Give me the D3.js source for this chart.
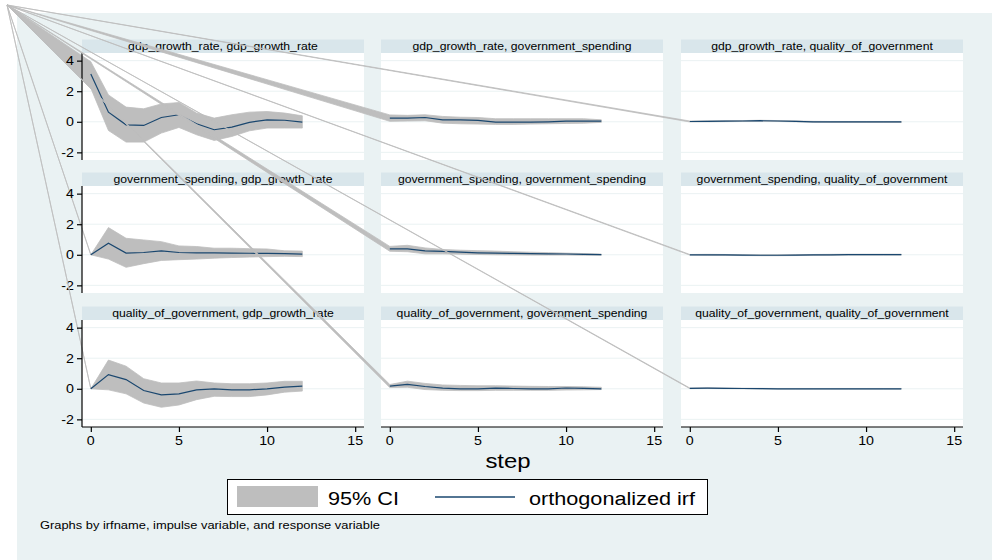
<!DOCTYPE html>
<html>
<head>
<meta charset="utf-8">
<script src="https://cdn.jsdelivr.net/npm/d3@7"></script>
<style>
  body { margin: 0; background: #fff; }
  text { font-family: "Liberation Sans", Arial, sans-serif; fill: #000; }
</style>
</head>
<body>
<div id="chart"></div>
<script>
// podaci: impuls (red) -> odziv (stupac), koraci 0..12
const steps = [0, 1, 2, 3, 4, 5, 6, 7, 8, 9, 10, 11, 12];
const variables = ["gdp_growth_rate", "government_spending", "quality_of_government"];
const yTicks = [-2, 0, 2, 4];
const xTicks = [0, 5, 10, 15];

// gdp_growth_rate -> ...
const irf_gdp_gdp = [3.13, 0.63, -0.2, -0.24, 0.28, 0.46, -0.13, -0.52, -0.35, -0.04, 0.13, 0.1, -0.02];
const hi_gdp_gdp  = [3.93, 1.76, 0.96, 0.85, 1.17, 1.26, 0.57, 0.24, 0.46, 0.63, 0.67, 0.57, 0.39];
const lo_gdp_gdp  = [2.2, -0.57, -1.33, -1.33, -0.74, -0.37, -0.85, -1.22, -0.96, -0.59, -0.41, -0.41, -0.41];
const irf_gdp_gov = [0.24, 0.24, 0.28, 0.13, 0.13, 0.09, -0.02, -0.02, -0.02, 0.0, 0.04, 0.04, 0.04];
const hi_gdp_gov  = [0.45, 0.42, 0.46, 0.35, 0.3, 0.28, 0.2, 0.2, 0.2, 0.2, 0.2, 0.2, 0.13];
const lo_gdp_gov  = [0.03, 0.05, 0.07, -0.09, -0.13, -0.15, -0.17, -0.17, -0.15, -0.13, -0.11, -0.09, -0.04];
const irf_gdp_qog = [0.02, 0.03, 0.04, 0.05, 0.07, 0.05, 0.03, 0.0, -0.01, -0.01, -0.01, -0.01, -0.01];
const hi_gdp_qog  = [0.05, 0.06, 0.07, 0.08, 0.1, 0.08, 0.06, 0.03, 0.02, 0.02, 0.02, 0.02, 0.02];
const lo_gdp_qog  = [-0.01, 0.0, 0.01, 0.02, 0.04, 0.02, 0.0, -0.03, -0.04, -0.04, -0.04, -0.04, -0.04];

// government_spending -> ...
const irf_gov_gdp = [0.0, 0.75, 0.11, 0.15, 0.26, 0.15, 0.13, 0.12, 0.11, 0.1, 0.09, 0.07, 0.04];
const hi_gov_gdp  = [0.0, 1.78, 1.08, 0.97, 0.86, 0.58, 0.54, 0.43, 0.43, 0.4, 0.38, 0.26, 0.24];
const lo_gov_gdp  = [0.0, -0.28, -0.82, -0.58, -0.37, -0.32, -0.28, -0.22, -0.18, -0.15, -0.12, -0.1, -0.12];
const irf_gov_gov = [0.39, 0.39, 0.26, 0.22, 0.17, 0.13, 0.11, 0.09, 0.08, 0.06, 0.05, 0.03, 0.01];
const hi_gov_gov  = [0.55, 0.62, 0.45, 0.35, 0.3, 0.27, 0.24, 0.2, 0.17, 0.14, 0.11, 0.08, 0.05];
const lo_gov_gov  = [0.23, 0.2, 0.06, 0.06, 0.04, 0.02, 0.0, -0.01, -0.02, -0.02, -0.02, -0.03, -0.03];
const irf_gov_qog = [0.0, 0.0, -0.01, -0.02, -0.03, -0.03, -0.02, -0.01, 0.0, 0.01, 0.01, 0.01, 0.01];
const hi_gov_qog  = [0.02, 0.03, 0.02, 0.01, 0.0, 0.0, 0.01, 0.02, 0.03, 0.04, 0.04, 0.04, 0.04];
const lo_gov_qog  = [-0.02, -0.03, -0.04, -0.05, -0.06, -0.06, -0.05, -0.04, -0.03, -0.02, -0.02, -0.02, -0.02];

// quality_of_government -> ...
const irf_qog_gdp = [0.0, 0.93, 0.6, -0.11, -0.4, -0.33, -0.07, 0.0, -0.07, -0.07, 0.0, 0.11, 0.18];
const hi_qog_gdp  = [0.0, 1.88, 1.48, 0.66, 0.38, 0.38, 0.51, 0.38, 0.33, 0.33, 0.38, 0.49, 0.49];
const lo_qog_gdp  = [0.0, -0.07, -0.33, -0.93, -1.21, -1.06, -0.71, -0.49, -0.51, -0.51, -0.4, -0.22, -0.15];
const irf_qog_gov = [0.18, 0.29, 0.15, 0.04, 0.0, 0.0, 0.04, 0.02, 0.0, 0.0, 0.05, 0.03, 0.0];
const hi_qog_gov  = [0.28, 0.5, 0.35, 0.25, 0.22, 0.2, 0.2, 0.18, 0.16, 0.15, 0.15, 0.13, 0.1];
const lo_qog_gov  = [0.08, 0.1, -0.05, -0.1, -0.12, -0.12, -0.1, -0.1, -0.1, -0.1, -0.08, -0.07, -0.05];
const irf_qog_qog = [0.03, 0.04, 0.03, 0.02, 0.01, 0.0, 0.0, 0.0, 0.0, 0.0, 0.0, 0.0, 0.0];
const hi_qog_qog  = [0.05, 0.06, 0.05, 0.04, 0.03, 0.02, 0.02, 0.02, 0.02, 0.02, 0.02, 0.02, 0.02];
const lo_qog_qog  = [0.01, 0.02, 0.01, 0.0, -0.01, -0.02, -0.02, -0.02, -0.02, -0.02, -0.02, -0.02, -0.02];

const legendLabels = ["95% CI", "orthogonalized irf"];
const xTitle = "step";
const note = "Graphs by irfname, impulse variable, and response variable";

// tablica panela (red = impuls, stupac = odziv)
const panels = [
  { r: 0, c: 0, irf: irf_gdp_gdp, lo: lo_gdp_gdp, hi: hi_gdp_gdp },
  { r: 0, c: 1, irf: irf_gdp_gov, lo: lo_gdp_gov, hi: hi_gdp_gov },
  { r: 0, c: 2, irf: irf_gdp_qog, lo: lo_gdp_qog, hi: hi_gdp_qog },
  { r: 1, c: 0, irf: irf_gov_gdp, lo: lo_gov_gdp, hi: hi_gov_gdp },
  { r: 1, c: 1, irf: irf_gov_gov, lo: lo_gov_gov, hi: hi_gov_gov },
  { r: 1, c: 2, irf: irf_gov_qog, lo: lo_gov_qog, hi: hi_gov_qog },
  { r: 2, c: 0, irf: irf_qog_gdp, lo: lo_qog_gdp, hi: hi_qog_gdp },
  { r: 2, c: 1, irf: irf_qog_gov, lo: lo_qog_gov, hi: hi_qog_gov },
  { r: 2, c: 2, irf: irf_qog_qog, lo: lo_qog_qog, hi: hi_qog_qog },
];

// dimenzije
const sirina = 992, visina = 560;
const colX = [82, 381, 681];
const rowY = [53, 186, 320];
const plotW = 282, plotH = 107, stripH = 13.5;
const sx = 1.14; // Stata tekst je malo razvučen vodoravno
const boja = { bg: "#eaf2f3", strip: "#d9e6eb", grid: "#eaf2f3", ci: "#bebebe", irf: "#1a476f" };
const kut = [7, 5]; // tocka iz koje krecu "klinovi" CI poligona

const svg = d3.select("#chart").append("svg")
  .attr("width", sirina).attr("height", visina);

svg.append("rect").attr("x", 17).attr("y", 13)
  .attr("width", sirina - 17).attr("height", visina - 13)
  .attr("fill", boja.bg);

const txt = (g, x, y, s, size, anchor) => g.append("text")
  .attr("transform", `translate(${x},${y}) scale(${sx},1)`)
  .attr("text-anchor", anchor || "start")
  .style("font-size", size + "px")
  .text(s);

const linija = d3.line();

panels.forEach(p => {
  const x0 = colX[p.c], y0 = rowY[p.r];
  const xSkala = d3.scaleLinear().domain([-0.5, 15.5]).range([x0, x0 + plotW]);
  const ySkala = d3.scaleLinear().domain([-2.5, 4.5]).range([y0 + plotH, y0]);
  const g = svg.append("g");

  g.append("rect").attr("x", x0).attr("y", y0).attr("width", plotW).attr("height", plotH)
    .attr("fill", "#fff");
  g.selectAll(".grid").data(yTicks).join("line")
    .attr("x1", x0).attr("x2", x0 + plotW)
    .attr("y1", d => ySkala(d)).attr("y2", d => ySkala(d))
    .attr("stroke", boja.grid).attr("stroke-width", 1);

  g.append("rect").attr("x", x0).attr("y", y0 - stripH).attr("width", plotW).attr("height", stripH)
    .attr("fill", boja.strip);
  txt(g, x0 + plotW / 2, y0 - 3.5, `${variables[p.r]}, ${variables[p.c]}`, 10.7, "middle");

  // CI poligon (s klinom prema kutu kao na originalu)
  const gornja = steps.map(s => [xSkala(s), ySkala(p.hi[s])]);
  const donja = steps.slice().reverse().map(s => [xSkala(s), ySkala(p.lo[s])]);
  g.append("path")
    .attr("d", linija([kut, ...gornja, ...donja]) + "Z")
    .attr("fill", boja.ci).attr("stroke", boja.ci).attr("stroke-width", 0.8)
    .attr("stroke-linejoin", "round");

  g.append("path")
    .attr("d", linija(steps.map(s => [xSkala(s), ySkala(p.irf[s])])))
    .attr("fill", "none").attr("stroke", boja.irf).attr("stroke-width", 1.2);

  if (p.c === 0) {
    const os = g.append("g").attr("transform", `translate(${x0},0)`)
      .call(d3.axisLeft(ySkala).tickValues(yTicks).tickSize(5).tickFormat(""));
    os.select(".domain").attr("d", `M0,${y0}V${y0 + plotH}`);
    os.selectAll("line, path").attr("stroke", "#000").attr("stroke-width", 1.2);
    yTicks.forEach(t => txt(g, x0 - 8, ySkala(t) + 4.5, String(t), 12.5, "end"));
  }
  if (p.r === 2) {
    const os = g.append("g").attr("transform", `translate(0,${y0 + plotH})`)
      .call(d3.axisBottom(xSkala).tickValues(xTicks).tickSize(5).tickFormat(""));
    os.select(".domain").attr("d", `M${x0},0H${x0 + plotW}`);
    os.selectAll("line, path").attr("stroke", "#000").attr("stroke-width", 1.2);
    xTicks.forEach(t => txt(g, xSkala(t), y0 + plotH + 18, String(t), 12.5, "middle"));
  }
});

// naslov osi
txt(svg, 508, 468, xTitle, 21, "middle");

// legenda
const leg = svg.append("g");
leg.append("rect").attr("x", 227.5).attr("y", 479.5).attr("width", 480).attr("height", 35)
  .attr("fill", "#fff").attr("stroke", "#000").attr("stroke-width", 1);
leg.append("rect").attr("x", 237).attr("y", 486).attr("width", 81).attr("height", 21)
  .attr("fill", boja.ci);
txt(leg, 328, 505, legendLabels[0], 19);
leg.append("line").attr("x1", 435).attr("x2", 515).attr("y1", 497).attr("y2", 497)
  .attr("stroke", boja.irf).attr("stroke-width", 1.3);
txt(leg, 529, 505, legendLabels[1], 19);

// napomena
txt(svg, 40, 529, note, 11.3);
</script>
</body>
</html>
